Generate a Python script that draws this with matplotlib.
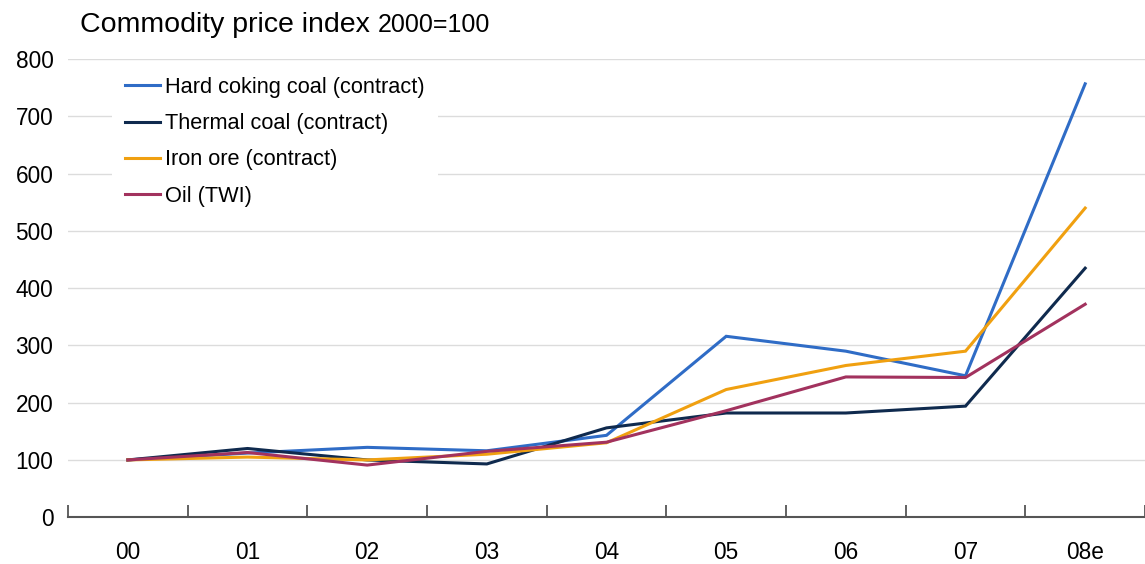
import matplotlib
matplotlib.use("Agg")
import matplotlib.pyplot as plt
import numpy as np

plt.rcParams['font.family'] = ['Liberation Sans', 'DejaVu Sans']

years = ["00", "01", "02", "03", "04", "05", "06", "07", "08e"]
hard_coking_coal = [100, 112, 122, 116, 143, 316, 290, 247, 757]
thermal_coal = [100, 120, 100, 93, 156, 182, 182, 194, 435]
iron_ore = [100, 105, 100, 110, 130, 223, 265, 290, 540]
oil = [100, 113, 91, 115, 131, 186, 245, 244, 372]

series = [
    ("Hard coking coal (contract)", hard_coking_coal, "#2f6cc6"),
    ("Thermal coal (contract)", thermal_coal, "#0f2a4e"),
    ("Iron ore (contract)", iron_ore, "#f0a010"),
    ("Oil (TWI)", oil, "#a2325e"),
]

fig = plt.figure(figsize=(11.45, 5.64), dpi=100)
ax = fig.add_axes([0.0594, 0.083, 0.9406, 0.812])

x = np.arange(len(years))
for label, vals, color in series:
    ax.plot(x, vals, color=color, lw=2.2, label=label, solid_joinstyle="miter")

ax.set_xlim(-0.5, 8.475)
ax.set_ylim(0, 800)
ax.set_yticks(range(0, 801, 100))
ax.yaxis.grid(True, color="#dcdcdc", lw=1)
ax.set_axisbelow(True)

for side in ("left", "right", "top"):
    ax.spines[side].set_visible(False)
ax.spines["bottom"].set_color("#555555")
ax.spines["bottom"].set_linewidth(1.5)

ax.set_xticks(x)
ax.set_xticklabels(years)
ax.set_xticks(np.arange(-0.5, len(years), 1.0), minor=True)
ax.tick_params(axis="x", which="major", length=0, pad=17.5, labelsize=16.3)
ax.tick_params(axis="x", which="minor", direction="in", length=9, width=1.3, color="#555555")
ax.tick_params(axis="y", length=0, pad=10.5, labelsize=16.3)

leg = ax.legend(loc="upper left", bbox_to_anchor=(0.041, 0.99), frameon=True,
                fontsize=15.7, handlelength=1.6, handletextpad=0.23,
                labelspacing=0.70, borderpad=0.6, borderaxespad=0)
leg.get_frame().set_facecolor("white")
leg.get_frame().set_edgecolor("none")
leg.get_frame().set_alpha(1)
leg.get_frame().set_boxstyle("square", pad=0)

fig.text(0.070, 0.943, "Commodity price index", fontsize=20.5, va="baseline", ha="left")
fig.text(0.330, 0.943, "2000=100", fontsize=18, va="baseline", ha="left")

fig.savefig("out.png", dpi=100)
